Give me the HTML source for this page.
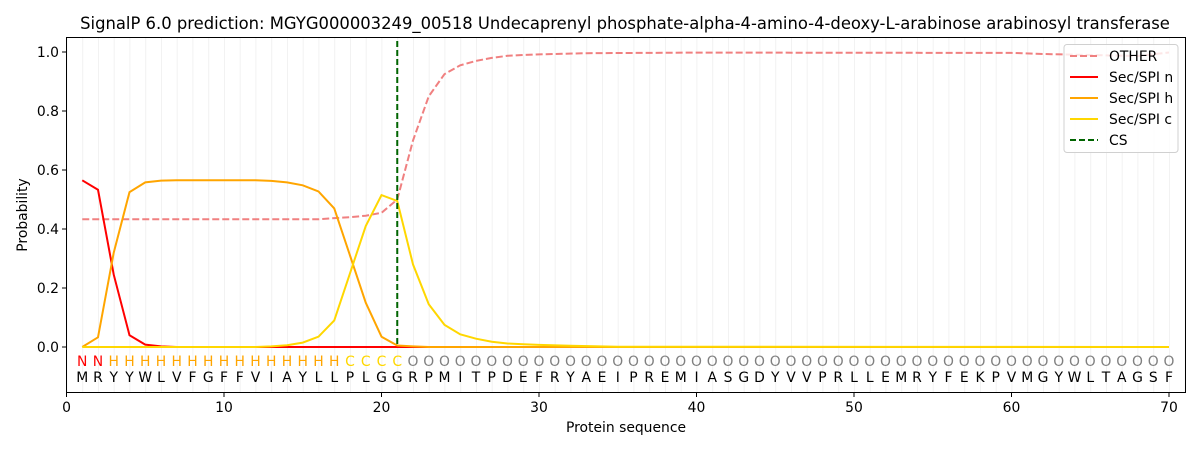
<!DOCTYPE html>
<html><head><meta charset="utf-8"><style>body{margin:0;background:#fff}svg{display:block}text{font-family:"DejaVu Sans","Liberation Sans",sans-serif}</style></head><body>
<svg width="1200" height="450" viewBox="0 0 1200 450" xmlns="http://www.w3.org/2000/svg">
<defs><pattern id="g" x="82.25" y="0" width="15.75" height="450" patternUnits="userSpaceOnUse"><rect x="-0.8" y="0" width="1.6" height="450" fill="#efefef"/></pattern></defs>
<rect x="66.5" y="37.5" width="1119" height="355" fill="url(#g)"/>
<rect x="66.5" y="37.5" width="1119" height="355" fill="none" stroke="#000" stroke-width="1"/>
<text x="625" y="29" font-size="16.4" text-anchor="middle">SignalP 6.0 prediction: MGYG000003249_00518 Undecaprenyl phosphate-alpha-4-amino-4-deoxy-L-arabinose arabinosyl transferase</text>
<g stroke="#000"><line x1="62" x2="66.5" y1="347" y2="347"/><line x1="62" x2="66.5" y1="288" y2="288"/><line x1="62" x2="66.5" y1="229" y2="229"/><line x1="62" x2="66.5" y1="170" y2="170"/><line x1="62" x2="66.5" y1="111" y2="111"/><line x1="62" x2="66.5" y1="52" y2="52"/>
<line x1="66.5" x2="66.5" y1="392.5" y2="397"/><line x1="224" x2="224" y1="392.5" y2="397"/><line x1="381.5" x2="381.5" y1="392.5" y2="397"/><line x1="539" x2="539" y1="392.5" y2="397"/><line x1="696.5" x2="696.5" y1="392.5" y2="397"/><line x1="854" x2="854" y1="392.5" y2="397"/><line x1="1011.5" x2="1011.5" y1="392.5" y2="397"/><line x1="1169" x2="1169" y1="392.5" y2="397"/></g>
<g font-size="13.9" text-anchor="end"><text x="59" y="352">0.0</text><text x="59" y="293">0.2</text><text x="59" y="234">0.4</text><text x="59" y="175">0.6</text><text x="59" y="116">0.8</text><text x="59" y="57">1.0</text></g>
<g font-size="13.9" text-anchor="middle"><text x="66.5" y="412">0</text><text x="224" y="412">10</text><text x="381.5" y="412">20</text><text x="539" y="412">30</text><text x="696.5" y="412">40</text><text x="854" y="412">50</text><text x="1011.5" y="412">60</text><text x="1169" y="412">70</text>
<text x="626" y="432">Protein sequence</text></g>
<text transform="translate(27,215) rotate(-90)" font-size="13.9" text-anchor="middle">Probability</text>
<g font-size="13.9" text-anchor="middle">
<text y="366" fill="#ff0000" x="82.25 98">NN</text>
<text y="366" fill="#ffa500" x="113.75 129.5 145.25 161 176.75 192.5 208.25 224 239.75 255.5 271.25 287 302.75 318.5 334.25">HHHHHHHHHHHHHHH</text>
<text y="366" fill="#ffd700" x="350 365.75 381.5 397.25">CCCC</text>
<text y="366" fill="#808080" x="413 428.75 444.5 460.25 476 491.75 507.5 523.25 539 554.75 570.5 586.25 602 617.75 633.5 649.25 665 680.75 696.5 712.25 728 743.75 759.5 775.25 791 806.75 822.5 838.25 854 869.75 885.5 901.25 917 932.75 948.5 964.25 980 995.75 1011.5 1027.25 1043 1058.75 1074.5 1090.25 1106 1121.75 1137.5 1153.25 1169">OOOOOOOOOOOOOOOOOOOOOOOOOOOOOOOOOOOOOOOOOOOOOOOOO</text>
<text y="382" fill="#000" x="82.25 98 113.75 129.5 145.25 161 176.75 192.5 208.25 224 239.75 255.5 271.25 287 302.75 318.5 334.25 350 365.75 381.5 397.25 413 428.75 444.5 460.25 476 491.75 507.5 523.25 539 554.75 570.5 586.25 602 617.75 633.5 649.25 665 680.75 696.5 712.25 728 743.75 759.5 775.25 791 806.75 822.5 838.25 854 869.75 885.5 901.25 917 932.75 948.5 964.25 980 995.75 1011.5 1027.25 1043 1058.75 1074.5 1090.25 1106 1121.75 1137.5 1153.25 1169">MRYYWLVFGFFVIAYLLPLGGRPMITPDEFRYAEIPREMIASGDYVVPRLLEMRYFEKPVMGYWLTAGSF</text>
</g>
<g fill="none" stroke-width="2">
<polyline stroke="#f08080" stroke-dasharray="7,3" points="82.25,219.3 318.5,219.3 334.25,218.1 350,217.2 365.75,215.7 381.5,212.8 397.25,199.5 413,140.5 428.75,96.3 444.5,74.1 460.25,65.3 476,60.9 491.75,57.9 507.5,55.8 523.25,54.95 539,54.4 586.25,53.2 696.5,52.6 1011.5,52.9 1043,54 1090.25,55 1137.5,56 1169,52.5"/>
<polyline stroke="#ff0000" points="82.25,180.3 98,189.8 113.75,274.7 129.5,335.2 145.25,344.6 161,346.4 176.75,347 1169,347"/>
<polyline stroke="#ffa500" points="82.25,347 98,337.3 113.75,252.6 129.5,192.1 145.25,182.4 161,180.6 176.75,180.3 255.5,180.3 271.25,180.9 287,182.4 302.75,185.3 318.5,191.5 334.25,208.4 350,255.5 365.75,302.7 381.5,336.7 397.25,345.5 413,346.4 428.75,347 1169,347"/>
<polyline stroke="#ffd700" points="82.25,347 255.5,347 271.25,346.4 287,345.2 302.75,342.6 318.5,336.7 334.25,320.5 350,273.3 365.75,226 381.5,195.1 397.25,201 413,264.4 428.75,304.2 444.5,324.9 460.25,334.3 476,338.7 491.75,341.7 507.5,343.5 523.25,344.3 539,344.9 570.5,345.8 617.75,346.7 1169,347"/>
<line x1="397.25" x2="397.25" y1="41" y2="347" stroke="#006400" stroke-dasharray="6,3"/>
</g>
<rect x="1064" y="44.5" width="114" height="108" rx="3" fill="#fff" fill-opacity="0.8" stroke="#d0d0d0"/>
<g stroke-width="2">
<line x1="1070" x2="1098" y1="56" y2="56" stroke="#f08080" stroke-dasharray="7,3"/>
<line x1="1070" x2="1098" y1="77" y2="77" stroke="#ff0000"/>
<line x1="1070" x2="1098" y1="98" y2="98" stroke="#ffa500"/>
<line x1="1070" x2="1098" y1="119" y2="119" stroke="#ffd700"/>
<line x1="1070" x2="1098" y1="140" y2="140" stroke="#006400" stroke-dasharray="6,3"/>
</g>
<g font-size="13.9"><text x="1109" y="61">OTHER</text><text x="1109" y="82">Sec/SPI n</text><text x="1109" y="103">Sec/SPI h</text><text x="1109" y="124">Sec/SPI c</text><text x="1109" y="145">CS</text></g>
</svg>
</body></html>
